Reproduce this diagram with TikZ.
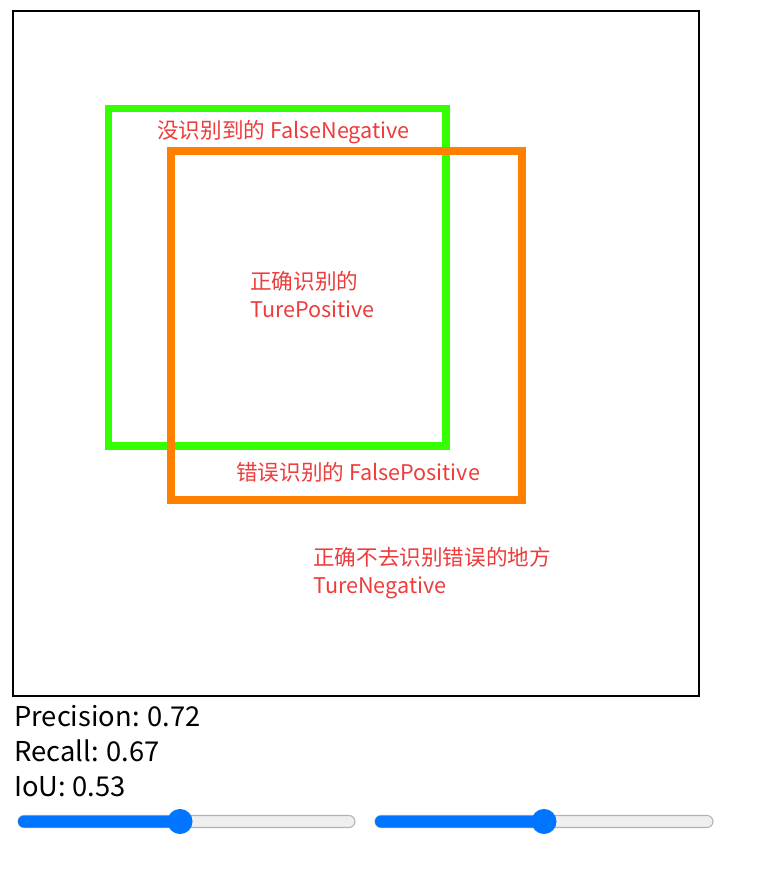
\documentclass[tikz,border=0pt]{standalone}
\usepackage{fontspec}
\setmainfont{Noto Sans CJK SC}
\usepackage{tikz}
\usetikzlibrary{positioning}
\definecolor{TruthGreen}{HTML}{33FF00}
\definecolor{PredOrange}{HTML}{FF8000}
\definecolor{LabelRed}{HTML}{EE3B3B}
\definecolor{SliderBlue}{HTML}{0075FF}
\definecolor{TrackGray}{HTML}{EFEFEF}
\definecolor{TrackRule}{HTML}{B3B3B3}

\tikzset{
  areatext/.style={text=LabelRed, inner sep=0pt, anchor=west, align=left,
                   font=\fontsize{16.2}{21}\selectfont},
  scoretext/.style={text=black, inner sep=0pt, anchor=west,
                    font=\fontsize{20.5}{26}\selectfont},
  track/.style={fill=TrackGray, draw=TrackRule, line width=0.8pt, rounded corners=4.5pt},
  trackfill/.style={fill=SliderBlue, rounded corners=4.5pt},
  thumb/.style={fill=SliderBlue}
}

\begin{document}
\begin{tikzpicture}[x=0.75pt, y=-0.75pt]
  \useasboundingbox (0,0) rectangle (765,878);
  % image frame
  \draw[line width=1.1pt] (13,11) rectangle (699,696);
  % ground truth and prediction boxes
  \draw[TruthGreen, line width=5.6pt] (108.5,108.5) rectangle (446,446);
  \draw[PredOrange, line width=6pt] (171,151) rectangle (522,500);
  % area labels
  \node[areatext] (fn) at (157,132) {没识别到的 FalseNegative};
  \node[areatext] (tp) at (250,295) {正确识别的\\TurePositive};
  \node[areatext] (fp) at (236,472) {错误识别的 FalsePositive};
  \node[areatext] (tn) at (313,573) {正确不去识别错误的地方\\TureNegative};
  % scores
  \node[scoretext] (prec) at (14,716) {Precision: 0.72};
  \node[scoretext] (rec) at (14,751) {Recall: 0.67};
  \node[scoretext] (iou) at (14,787) {IoU: 0.53};
  % sliders
  \draw[track] (18,815.5) rectangle (355,827.5);
  \fill[trackfill] (18,815.5) rectangle (182,827.5);
  \fill[thumb] (180,821.5) circle[radius=9.4pt];
  \draw[track] (375,815.5) rectangle (713,827.5);
  \fill[trackfill] (375,815.5) rectangle (546,827.5);
  \fill[thumb] (544,821.5) circle[radius=9.4pt];
\end{tikzpicture}
\end{document}
